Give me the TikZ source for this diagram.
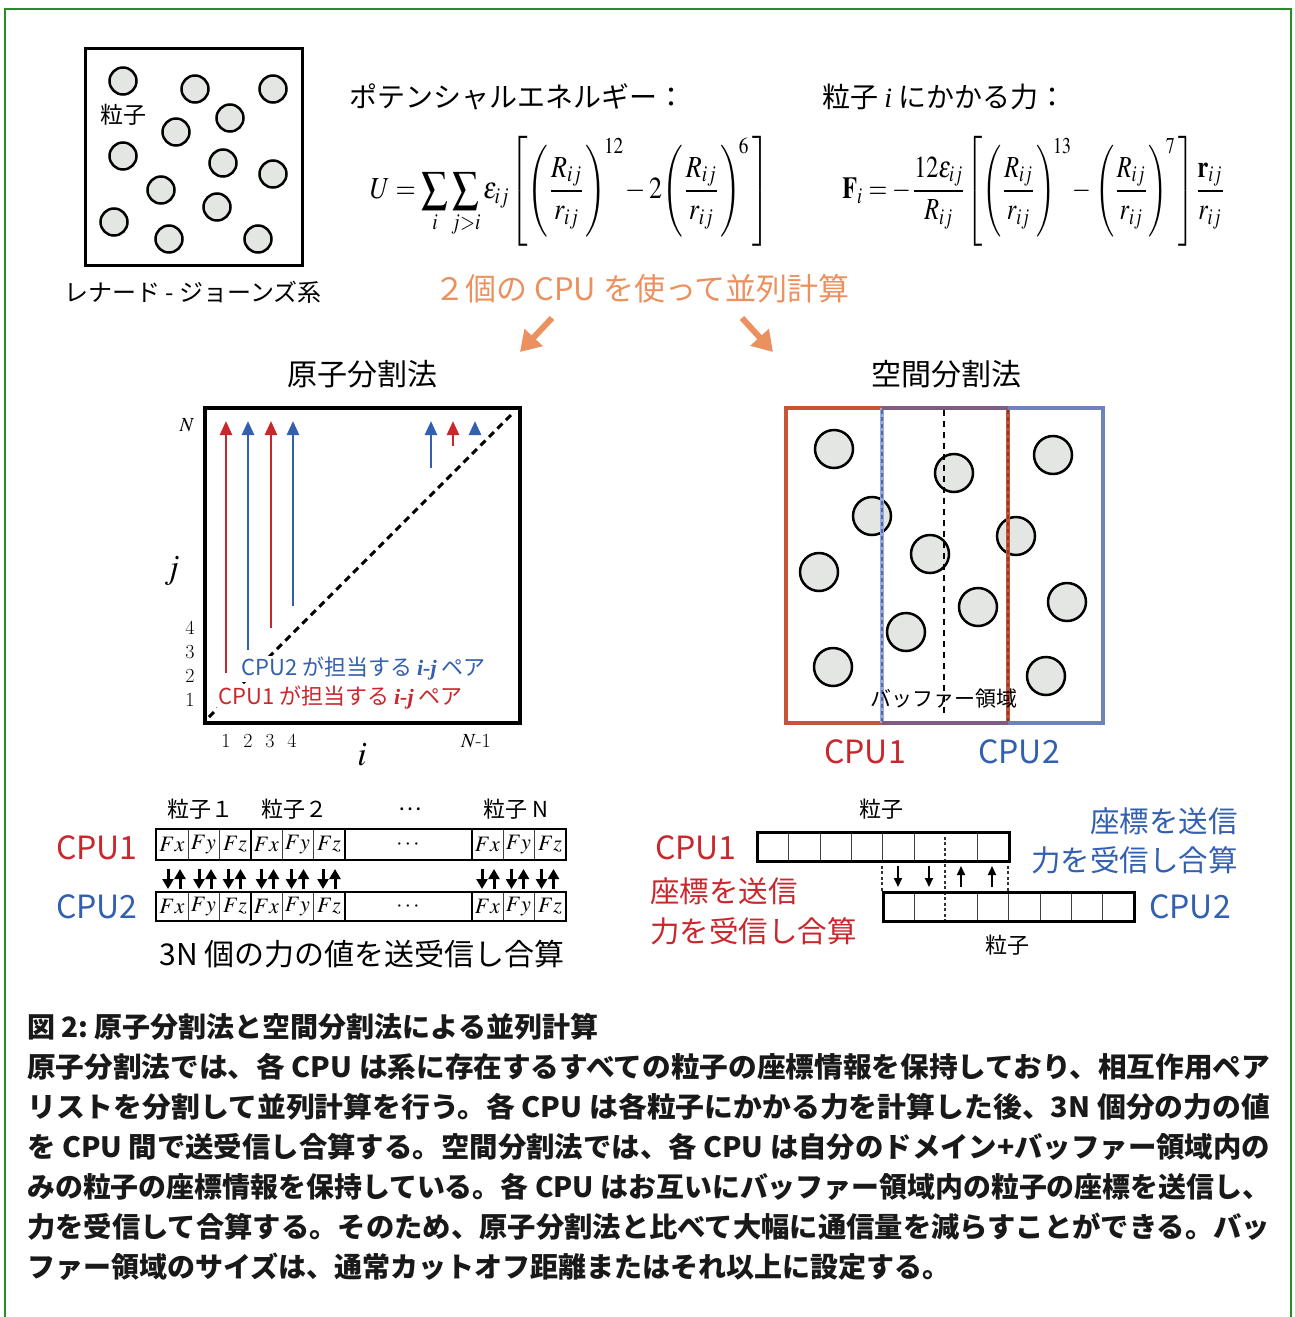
\documentclass[tikz,border=0pt]{standalone}
\usepackage{mathptmx}
\usepackage[no-math]{fontspec}
\usepackage{graphicx}
\usetikzlibrary{arrows.meta}
\newfontfamily\jp{Noto Sans CJK JP}
\newfontfamily\tms{Liberation Serif}
\newcommand\myfs[1]{\fontsize{#1}{#1}\selectfont}
\newcommand\ijb{{\tms\bfseries\itshape i-j}}
\definecolor{framegreen}{RGB}{40,140,40}
\definecolor{cpured}{RGB}{200,40,45}
\definecolor{cpublue}{RGB}{50,95,175}
\definecolor{orng}{RGB}{235,145,95}
\definecolor{domred}{RGB}{198,85,55}
\definecolor{domblue}{RGB}{110,130,190}
\definecolor{domlblue}{RGB}{150,170,225}
\definecolor{dompurple}{RGB}{128,92,130}
\definecolor{gfill}{RGB}{228,230,228}
\definecolor{captext}{RGB}{25,25,25}
\begin{document}
\begin{tikzpicture}[x=1pt,y=-1pt,
  lbl/.style={inner sep=0pt, font=\jp},
  particle/.style={draw=black, fill=gfill, line width=2.5pt},
  oarrow/.style={orng, line width=6pt, -{Triangle[length=20pt,width=24pt]}},
  marrow/.style={line width=2.6pt, -{Triangle[length=14pt,width=12pt]}},
  barrow/.style={line width=3pt, -{Triangle[length=10pt,width=11pt]}},
  sarrow/.style={line width=1.8pt, -{Triangle[length=9pt,width=8pt]}},
  cellbox/.style={draw=black, line width=2.5pt},
  thincell/.style={draw=black!75, line width=0.9pt},
  fcell/.style={inner sep=0pt, font=\myfs{22}},
  captxt/.style={inner sep=0pt, anchor=west, text=captext, font=\jp\bfseries\myfs{28}}
]
\useasboundingbox (0,0) rectangle (1295,1317);
\draw[framegreen, line width=2pt] (5,1317) -- (5,9) -- (1291,9) -- (1291,1317);

% ---------- Lennard-Jones box ----------
\draw[line width=3pt] (85,48) rectangle (302,265);
\foreach \x/\y in {123/81,195/89,273/89,230/118,176/132,123/156,223/163,273/174,161/190,217/207,114/222,169/239,258/239}
  \draw[particle] (\x,\y) circle[radius=13.5];
\node[lbl, font=\jp\myfs{23}] (ptl) at (123,115) {粒子};
\node[lbl, font=\jp\myfs{24}] (ljs) at (193,292) {レナード - ジョーンズ系};

% ---------- formulas ----------
\node[lbl, font=\jp\myfs{28}, anchor=west] (pot) at (349,97) {ポテンシャルエネルギー：};
\node[lbl, font=\jp\myfs{28}, anchor=west] (frc) at (822,97) {粒子 {\tms\itshape i} にかかる力：};
\node[inner sep=0pt] (ueq) at (570,191) {\resizebox*{400pt}{110pt}{$\displaystyle U=\sum_{i}\sum_{j>i}\varepsilon_{ij}\!\left[\Biggl(\frac{R_{ij}}{r_{ij}}\Biggr)^{\!12}\!-2\Biggl(\frac{R_{ij}}{r_{ij}}\Biggr)^{\!6}\,\right]$}};
\node[inner sep=0pt] (feq) at (1034,191) {\resizebox*{383pt}{110pt}{$\displaystyle \mathbf{F}_i=-\frac{12\varepsilon_{ij}}{R_{ij}}\!\left[\Biggl(\frac{R_{ij}}{r_{ij}}\Biggr)^{\!13}\!-\Biggl(\frac{R_{ij}}{r_{ij}}\Biggr)^{\!7}\,\right]\!\frac{\mathbf{r}_{ij}}{r_{ij}}$}};

% ---------- orange heading and arrows ----------
\node[lbl, font=\jp\myfs{31}, text=orng] (par) at (642,289) {２個の CPU を使って並列計算};
\coordinate (oa1) at (552,318); \coordinate (oa2) at (520,352);
\coordinate (ob1) at (742,318); \coordinate (ob2) at (773,352);
\draw[oarrow] (oa1) -- (oa2);
\draw[oarrow] (ob1) -- (ob2);

\node[lbl, font=\jp\myfs{30}] (atm) at (362,374) {原子分割法};
\node[lbl, font=\jp\myfs{30}] (spc) at (946,374) {空間分割法};

% ---------- atom decomposition matrix ----------
\draw[line width=3.5pt] (205,408) rectangle (520,723);
\coordinate (dg1) at (209,717); \coordinate (dg2) at (514,412);
\draw[line width=3pt, dash pattern=on 7pt off 5pt] (dg1) -- (dg2);
\foreach \x/\yb/\c [count=\k] in {226/673/cpured,248/650/cpublue,271/628/cpured,293/606/cpublue,431/468/cpublue,453/446/cpured}{
  \coordinate (ma\k) at (\x,\yb); \coordinate (mb\k) at (\x,421);
  \draw[marrow, \c] (ma\k) -- (mb\k);
}
\coordinate (ma7) at (475,435); \coordinate (mb7) at (475,421);
\draw[marrow, cpublue] (ma7) -- (mb7);
\node[lbl, font=\myfs{20}] (lN) at (187,425) {$N$};
\node[lbl, font=\myfs{34}] (lj) at (172,571) {$j$};
\foreach \n/\y in {4/628,3/652,2/676,1/700} \node[lbl, font=\myfs{20}] (ly\n) at (190,\y) {\n};
\foreach \n/\x in {1/226,2/248,3/270,4/292} \node[lbl, font=\myfs{20}] (lx\n) at (\x,741) {\n};
\node[lbl, font=\myfs{20}] (lN1) at (476,741) {$N$-1};
\node[lbl, font=\myfs{34}] (li) at (362,755) {$i$};
\node[lbl, font=\jp\myfs{22}, text=cpublue, anchor=west, fill=white, inner sep=1pt] (c2p) at (240,669) {CPU2 が担当する \ijb\ ペア};
\node[lbl, font=\jp\myfs{22}, text=cpured, anchor=west, fill=white, inner sep=1pt] (c1p) at (217,698) {CPU1 が担当する \ijb\ ペア};

% ---------- spatial decomposition ----------
\foreach \x/\y in {834/449,954/473,1053/455,872/516,1016/536,930/554,819/572,978/607,1067/602,906/632,833/667,1046/676}
  \draw[particle] (\x,\y) circle[radius=19];
\draw[line width=2.8pt, dash pattern=on 6pt off 5pt] (944,410) -- (944,713);
\draw[domred, line width=4.5pt] (1008,408) -- (786,408) -- (786,723) -- (1008,723);
\draw[domred, line width=4.5pt] (1008,408) -- (1008,723);
\draw[domred!70!black, line width=1.6pt, dash pattern=on 4pt off 3pt] (1008,410) -- (1008,721);
\draw[domblue, line width=4.5pt] (882,408) -- (1103,408) -- (1103,723) -- (882,723);
\draw[domlblue, line width=4.5pt] (882,408) -- (882,723);
\draw[domblue!80!black, line width=1.6pt, dash pattern=on 4pt off 3pt] (882,410) -- (882,721);
\draw[dompurple, line width=4.5pt] (882,408) -- (1008,408);
\draw[dompurple, line width=4.5pt] (882,723) -- (1008,723);
\node[lbl, font=\jp\myfs{21}] (buf) at (944,699) {バッファー領域};
\node[lbl, font=\jp\myfs{32}, text=cpured] (dc1) at (865,752) {CPU1};
\node[lbl, font=\jp\myfs{32}, text=cpublue] (dc2) at (1019,752) {CPU2};

% ---------- force arrays (atom decomposition) ----------
\node[lbl, font=\jp\myfs{32}, text=cpured] (ac1) at (97,848) {CPU1};
\node[lbl, font=\jp\myfs{32}, text=cpublue] (ac2) at (97,907) {CPU2};
\node[lbl, font=\jp\myfs{22}] (p1) at (200,809) {粒子１};
\node[lbl, font=\jp\myfs{22}] (p2) at (294,809) {粒子２};
\node[lbl, font=\jp\myfs{22}] (pd) at (410,809) {…};
\node[lbl, font=\jp\myfs{22}] (pN) at (516,809) {粒子 N};
\foreach \ya/\yb/\nm in {829/860/t,892/921/b}{
  \foreach \xa/\xb/\lab [count=\k] in {156/188/Fx,188/219/Fy,219/251/Fz,251/282/Fx,282/313/Fy,313/345/Fz,472/503/Fx,503/534/Fy,534/566/Fz}{
    \draw[thincell] (\xa,\ya) rectangle (\xb,\yb);
    \node[fcell] (f\nm\k) at ({(\xa+\xb)/2},{(\ya+\yb)/2}) {$\lab$};
  }
  \draw[line width=2pt] (251,\ya) -- (251,\yb);
  \draw[line width=2pt] (345,\ya) -- (345,\yb);
  \draw[line width=2pt] (472,\ya) -- (472,\yb);
  \draw[cellbox] (156,\ya) rectangle (566,\yb);
  \node[fcell] (dots\nm) at (408,{(\ya+\yb)/2}) {$\cdots$};
}
\foreach \c [count=\k] in {174,205,234.5,267.5,297.5,329,488,517.5,547.5}{
  \coordinate (dt\k) at (\c-6,869); \coordinate (db\k) at (\c-6,889);
  \draw[barrow] (dt\k) -- (db\k);
  \coordinate (ub\k) at (\c+6,889); \coordinate (ut\k) at (\c+6,869);
  \draw[barrow] (ub\k) -- (ut\k);
}
\node[lbl, font=\jp\myfs{30}] (snd) at (362,954) {3N 個の力の値を送受信し合算};

% ---------- coordinate arrays (spatial decomposition) ----------
\node[lbl, font=\jp\myfs{22}] (q1) at (881,809) {粒子};
\node[lbl, font=\jp\myfs{22}] (q2) at (1007,945) {粒子};
\foreach \x in {788,820,851,882,914,977} \draw[thincell] (\x,831) -- (\x,860);
\foreach \x in {914,977,1008,1040,1071,1102} \draw[thincell] (\x,891) -- (\x,920);
\draw[black!80, line width=1.2pt, dash pattern=on 3pt off 2.5pt] (945,831) -- (945,920);
\draw[black!80, line width=1.2pt, dash pattern=on 3pt off 2.5pt] (882,860) -- (882,891);
\draw[black!80, line width=1.2pt, dash pattern=on 3pt off 2.5pt] (1008,860) -- (1008,891);
\node[cellbox, inner sep=0pt, minimum width=252pt, minimum height=29pt, anchor=north west] (arr1) at (756,831) {};
\node[cellbox, inner sep=0pt, minimum width=251pt, minimum height=29pt, anchor=north west] (arr2) at (882,891) {};
\foreach \x [count=\k] in {898,929}{
  \coordinate (sd\k a) at (\x,866); \coordinate (sd\k b) at (\x,887);
  \draw[sarrow] (sd\k a) -- (sd\k b);
}
\foreach \x [count=\k] in {961,992}{
  \coordinate (su\k a) at (\x,887); \coordinate (su\k b) at (\x,866);
  \draw[sarrow] (su\k a) -- (su\k b);
}
\node[lbl, font=\jp\myfs{32}, text=cpured] (sc1) at (696,848) {CPU1};
\node[lbl, font=\jp\myfs{32}, text=cpublue] (sc2) at (1190,907) {CPU2};
\node[lbl, font=\jp\myfs{29.5}, text=cpured, anchor=west] (r1) at (650,891) {座標を送信};
\node[lbl, font=\jp\myfs{29.5}, text=cpured, anchor=west] (r2) at (650,931) {力を受信し合算};
\node[lbl, font=\jp\myfs{29.5}, text=cpublue, anchor=east] (b1) at (1238,821) {座標を送信};
\node[lbl, font=\jp\myfs{29.5}, text=cpublue, anchor=east] (b2) at (1238,860) {力を受信し合算};

% ---------- caption ----------
\node[captxt] (cap0) at (27,1027) {図 2:\ 原子分割法と空間分割法による並列計算};
\node[captxt] (cap1) at (27,1067) {\resizebox{1243pt}{\height}{原子分割法では、各 CPU は系に存在するすべての粒子の座標情報を保持しており、相互作用ペア}};
\node[captxt] (cap2) at (27,1107) {\resizebox{1243pt}{\height}{リストを分割して並列計算を行う。各 CPU は各粒子にかかる力を計算した後、3N 個分の力の値}};
\node[captxt] (cap3) at (27,1147) {\resizebox{1243pt}{\height}{を CPU 間で送受信し合算する。空間分割法では、各 CPU は自分のドメイン+バッファー領域内の}};
\node[captxt] (cap4) at (27,1187) {\resizebox{1243pt}{\height}{みの粒子の座標情報を保持している。各 CPU はお互いにバッファー領域内の粒子の座標を送信し、}};
\node[captxt] (cap5) at (27,1227) {\resizebox{1243pt}{\height}{力を受信して合算する。そのため、原子分割法と比べて大幅に通信量を減らすことができる。バッ}};
\node[captxt] (cap6) at (27,1267) {ファー領域のサイズは、通常カットオフ距離またはそれ以上に設定する。};
\end{tikzpicture}
\end{document}
